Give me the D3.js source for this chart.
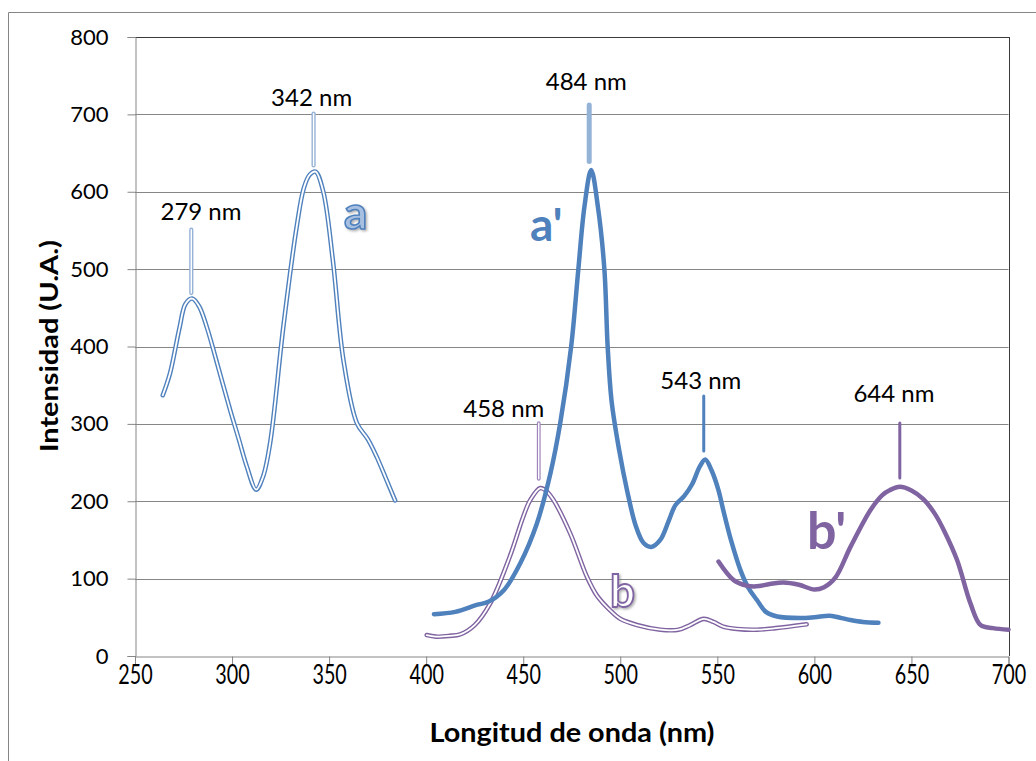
<!DOCTYPE html>
<html>
<head>
<meta charset="utf-8">
<script src="https://cdn.jsdelivr.net/npm/d3@7/dist/d3.min.js"></script>
<style>
  html, body { margin: 0; padding: 0; background: #fff; }
  svg { display: block; font-family: Lato, "Open Sans", sans-serif; }
</style>
</head>
<body>
<svg id="chart" width="1036" height="761"></svg>
<script>
// Axis ticks
const xTicks = [250, 300, 350, 400, 450, 500, 550, 600, 650, 700];
const yTicks = [0, 100, 200, 300, 400, 500, 600, 700, 800];

// Spectrum a (excitation, blue double line)
const aWave = [264.3, 268, 273, 276, 279.5, 283, 287, 293, 299, 303.5, 307.6, 312.4, 316, 319.6, 326.4, 333.3, 337, 340, 343, 347, 351.9, 357.4, 364.3, 370, 374.6, 380, 384];
const aInt  = [337, 365, 425, 455, 462, 452, 425, 372, 318, 280, 245, 215, 232, 275, 425, 555, 605, 622, 626, 600, 512, 382, 301, 280, 257, 225, 201];

// Spectrum a' (emission, thick blue)
const a2Wave = [404, 415, 426, 432, 440, 448.5, 457, 464, 469, 474.7, 478.4, 481.5, 485, 488.5, 491.8, 493.5, 495.5, 499.5, 503.5, 508, 512, 516, 520.6, 525, 528.4, 533, 537, 541, 543.8, 547, 550.5, 553, 557, 561.9, 566, 570.5, 575, 580.8, 592.8, 600, 608, 614, 618.6, 625, 633];
const a2Int  = [54, 57, 66, 70, 85, 120, 171, 236, 300, 400, 500, 580, 628, 580, 500, 400, 330, 265, 214, 168, 146, 141, 150, 175, 195, 207, 222, 245, 254, 240, 215, 189, 150, 111, 88, 72, 57, 51, 49, 50, 52, 49, 46.5, 44, 43];

// Spectrum b (excitation, purple double line)
const bWave = [400.3, 405, 412, 417.5, 425, 433, 443, 450, 453.6, 458.8, 462, 465.6, 474.2, 482.8, 488, 494.8, 500, 508.6, 520.6, 530, 536, 543, 548, 553, 560, 570.5, 580, 596];
const bInt  = [27, 25, 26, 28, 40, 68, 128, 180, 201.5, 217, 213, 201.5, 158.5, 102.5, 78, 59, 48, 40, 34, 34, 40, 48, 44, 38, 35, 34, 36, 41];

// Spectrum b' (emission, thick purple)
const b2Wave = [550.6, 558.4, 565, 570, 577, 584, 592, 600, 605, 611, 618.6, 629, 635, 639, 644, 650, 656, 662, 667, 673.5, 680.4, 685.6, 692, 700];
const b2Int  = [122, 98, 91, 90, 93, 95, 92, 86, 89, 102, 141, 189, 208, 214.5, 218.7, 214, 203, 184, 161, 124, 68, 40, 36, 34];

// Peak markers: wavelength, bottom/top of the tick (intensity units), label
const peakWave   = [279, 342, 484, 458, 543, 644];
const peakLow    = [469, 634, 639, 229, 265, 230];
const peakHigh   = [551, 701, 712, 301, 336, 301];
const peakLabels = ["279 nm", "342 nm", "484 nm", "458 nm", "543 nm", "644 nm"];
const peakLabelWave = [284, 341, 482.5, 440, 541.5, 641];
const peakLabelInt  = [563, 711, 731, 309, 345, 328];
const peakStyle  = ["doubleBlue", "doubleBlue", "lightBlue", "doublePurple", "blue", "purple"];

const BLUE = "#4f81bd", PURPLE = "#8064a2", LIGHTBLUE = "#95b3d7", GRID = "#868686";

const svg = d3.select("#chart");
const x = d3.scaleLinear().domain([250, 700]).range([135, 1008.5]);
const y = d3.scaleLinear().domain([0, 800]).range([656, 37]);

const defs = svg.append("defs");
const sh = defs.append("filter").attr("id", "shadow").attr("x", "-30%").attr("y", "-30%").attr("width", "160%").attr("height", "160%");
sh.append("feDropShadow").attr("dx", 1.5).attr("dy", 1.5).attr("stdDeviation", 1.2)
  .attr("flood-color", "#6f6f6f").attr("flood-opacity", 0.55);

// Chart frame (left and top edges)
svg.append("line").attr("x1", 8.5).attr("x2", 8.5).attr("y1", 12.5).attr("y2", 761).attr("stroke", GRID);
svg.append("line").attr("x1", 8.5).attr("x2", 1036).attr("y1", 12.5).attr("y2", 12.5).attr("stroke", GRID);

// Horizontal gridlines
svg.append("g").selectAll("line").data(yTicks.filter(d => d > 0 && d < 800)).join("line")
  .attr("x1", x(250)).attr("x2", x(700))
  .attr("y1", d => Math.round(y(d)) + 0.5).attr("y2", d => Math.round(y(d)) + 0.5)
  .attr("stroke", GRID).attr("stroke-width", 1);

// Plot area top and right edges
svg.append("line").attr("x1", x(250)).attr("x2", Math.round(x(700)) + 0.5)
  .attr("y1", Math.round(y(800)) + 0.5).attr("y2", Math.round(y(800)) + 0.5).attr("stroke", "#3a3a3a");
svg.append("line").attr("x1", Math.round(x(700)) + 0.5).attr("x2", Math.round(x(700)) + 0.5)
  .attr("y1", y(800)).attr("y2", y(0)).attr("stroke", "#3a3a3a");

// Y axis
const yAxis = svg.append("g").attr("transform", `translate(${Math.round(x(250)) + 0.5},0)`)
  .call(d3.axisLeft(y).tickValues(yTicks).tickSize(8).tickPadding(19).tickFormat(d3.format("d")));
yAxis.select(".domain").attr("stroke", GRID);
yAxis.selectAll(".tick line").attr("stroke", GRID);
yAxis.selectAll(".tick text").attr("font-family", "Lato, sans-serif").attr("font-size", 22).attr("fill", "#000");

// X axis
const xAxis = svg.append("g").attr("transform", `translate(0,${Math.round(y(0)) + 0.5})`)
  .call(d3.axisBottom(x).tickValues(xTicks).tickSize(8).tickFormat(d3.format("d")));
xAxis.select(".domain").attr("stroke", GRID);
xAxis.selectAll(".tick line").attr("stroke", GRID);
xAxis.selectAll(".tick text").attr("y", 0).attr("dy", 0)
  .attr("font-family", "Lato, sans-serif").attr("font-size", 26).attr("fill", "#000")
  .attr("transform", "translate(0,27) scale(0.76,1.05)");

// Axis titles
svg.append("text").attr("x", 572).attr("y", 742).attr("text-anchor", "middle")
  .attr("font-size", 26).attr("font-weight", 700).attr("fill", "#000")
  .attr("textLength", 285).attr("lengthAdjust", "spacingAndGlyphs")
  .text("Longitud de onda (nm)");
svg.append("text").attr("transform", "translate(58,346) rotate(-90)").attr("text-anchor", "middle")
  .attr("font-size", 25).attr("font-weight", 700).attr("fill", "#000")
  .attr("textLength", 212).attr("lengthAdjust", "spacingAndGlyphs")
  .text("Intensidad (U.A.)");

// Spectra
const line = d3.line().x(d => x(d[0])).y(d => y(d[1])).curve(d3.curveCatmullRom.alpha(0.5));
const zip = (w, v) => w.map((d, i) => [d, v[i]]);

function doubleLine(data, color) {
  const g = svg.append("g").attr("fill", "none").attr("stroke-linecap", "round").attr("stroke-linejoin", "round");
  g.append("path").attr("d", line(data)).attr("stroke", color).attr("stroke-width", 4.6);
  g.append("path").attr("d", line(data)).attr("stroke", "#fff").attr("stroke-width", 1.8);
}
function solidLine(data, color) {
  svg.append("path").attr("d", line(data)).attr("fill", "none").attr("stroke", color)
    .attr("stroke-width", 4.5).attr("stroke-linecap", "round").attr("stroke-linejoin", "round");
}

doubleLine(zip(bWave, bInt), PURPLE);
solidLine(zip(a2Wave, a2Int), BLUE);
doubleLine(zip(aWave, aInt), BLUE);
solidLine(zip(b2Wave, b2Int), PURPLE);

// Peak ticks and labels
peakWave.forEach((w, i) => {
  const st = peakStyle[i];
  const px = x(w);
  const seg = svg.append("g").attr("stroke-linecap", "round");
  const addLine = (color, width) => seg.append("line")
    .attr("x1", px).attr("x2", px).attr("y1", y(peakLow[i])).attr("y2", y(peakHigh[i]))
    .attr("stroke", color).attr("stroke-width", width);
  if (st === "doubleBlue") { addLine(LIGHTBLUE, 4.2); addLine("#fff", 1.4); }
  else if (st === "doublePurple") { addLine("#9e86bd", 3.8); addLine("#fff", 1.4); }
  else if (st === "lightBlue") addLine(LIGHTBLUE, 5);
  else if (st === "blue") addLine(BLUE, 3);
  else addLine(PURPLE, 3);

  svg.append("text").attr("x", x(peakLabelWave[i])).attr("y", y(peakLabelInt[i]))
    .attr("text-anchor", "middle").attr("font-size", 24).attr("fill", "#000")
    .text(peakLabels[i]);
});

// Series letters
svg.append("text").attr("x", 344).attr("y", 229).attr("font-size", 46).attr("font-weight", 700)
  .attr("fill", "#a7bfe0").attr("stroke", BLUE).attr("stroke-width", 1.6)
  .attr("filter", "url(#shadow)").text("a");
svg.append("text").attr("x", 530).attr("y", 241).attr("font-size", 46).attr("font-weight", 700)
  .attr("fill", BLUE).text("a'");
svg.append("text").attr("x", 610).attr("y", 607).attr("font-size", 44).attr("font-weight", 700)
  .attr("fill", "#fff").attr("stroke", PURPLE).attr("stroke-width", 1.8)
  .attr("filter", "url(#shadow)").text("b");
svg.append("text").attr("x", 807).attr("y", 549).attr("font-size", 52).attr("font-weight", 700)
  .attr("fill", PURPLE).text("b'");
</script>
</body>
</html>
